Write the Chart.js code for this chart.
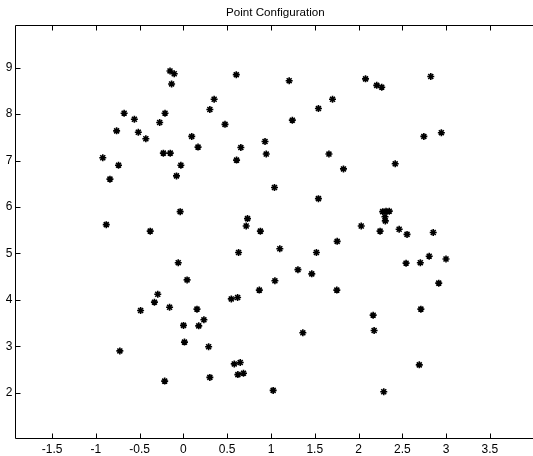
<!DOCTYPE html>
<html>
<head>
<meta charset="utf-8">
<script src="https://cdn.jsdelivr.net/npm/chart.js@4"></script>
<style>
  html, body { margin: 0; padding: 0; background: #fff; overflow: hidden; }
  #wrap { width: 533px; height: 456px; overflow: hidden; }
</style>
</head>
<body>
<div id="wrap"><canvas id="chart" width="541" height="456"></canvas></div>
<script>
// point coordinates
const pointX = [
  -0.153, -0.105, -0.135, 0.604, 1.208, 0.351, 0.302, -0.677, -0.210, -0.560,
  1.244, -0.271, 0.475, -0.763, -0.515, -0.429, 0.095, 0.932, 0.167, 0.656,
  0.946, -0.229, -0.150, -0.921, 0.607, -0.741, -0.029, -0.839, -0.079, 1.040,
  -0.037, 0.732, 0.717, -0.881, -0.379, 0.879, 2.080, 2.208, 2.265, 2.825,
  1.703, 1.542, 2.746, 2.946, 1.662, 1.828, 2.419, 1.542, 2.276, 2.314,
  2.351, 2.302, 2.306, 2.031, 2.246, 2.464, 2.554, 2.853, 1.756, 1.101,
  0.630, -0.059, 0.042, 1.308, 1.045, 0.867, -0.293, 0.619, 0.547, -0.331,
  -0.158, -0.489, 0.155, 0.234, 0.001, 0.175, 0.012, -0.726, 0.288, 0.581,
  0.649, 0.622, 0.686, -0.214, 0.302, 1.025, 1.519, 1.466, 1.752, 2.543,
  2.706, 2.807, 2.999, 2.916, 2.712, 2.167, 2.178, 1.364, 2.694, 2.288
];
const pointY = [
  8.93, 8.87, 8.65, 8.85, 8.72, 8.32, 8.10, 8.02, 8.02, 7.89,
  7.87, 7.82, 7.78, 7.64, 7.61, 7.47, 7.52, 7.41, 7.29, 7.28,
  7.14, 7.16, 7.16, 7.06, 7.01, 6.90, 6.90, 6.60, 6.67, 6.42,
  5.90, 5.75, 5.59, 5.62, 5.48, 5.48, 8.76, 8.62, 8.58, 8.81,
  8.32, 8.12, 7.52, 7.60, 7.14, 6.82, 6.93, 6.18, 5.90, 5.91,
  5.91, 5.79, 5.70, 5.59, 5.48, 5.52, 5.41, 5.45, 5.26, 5.10,
  5.02, 4.80, 4.43, 4.65, 4.41, 4.21, 4.12, 4.05, 4.02, 3.95,
  3.84, 3.77, 3.80, 3.57, 3.45, 3.44, 3.09, 2.90, 2.99, 2.62,
  2.65, 2.39, 2.42, 2.25, 2.33, 2.05, 5.02, 4.56, 4.21, 4.79,
  4.80, 4.94, 4.88, 4.36, 3.80, 3.67, 3.34, 3.29, 2.60, 2.02
];
const xTicks = [-1.5, -1, -0.5, 0, 0.5, 1, 1.5, 2, 2.5, 3, 3.5];
const yTicks = [2, 3, 4, 5, 6, 7, 8, 9];
const xRange = [-1.92, 4.02];
const yRange = [1.018, 9.913];

const points = pointX.map((x, i) => ({ x: x, y: pointY[i] }));

// matlab style box: top/left/bottom lines with inward ticks
const axesBox = {
  id: 'axesBox',
  afterDraw(chart) {
    const ctx = chart.ctx;
    const a = chart.chartArea;
    const sx = chart.scales.x, sy = chart.scales.y;
    const L = Math.round(a.left) + 0.5;
    const T = Math.round(a.top) + 0.5;
    const B = Math.round(a.bottom) + 0.5;
    const R = a.right + 1;
    const len = 5;
    ctx.save();
    ctx.strokeStyle = '#000';
    ctx.lineWidth = 1;
    ctx.beginPath();
    ctx.moveTo(R, T); ctx.lineTo(L, T); ctx.lineTo(L, B); ctx.lineTo(R, B);
    xTicks.forEach(v => {
      const px = Math.round(sx.getPixelForValue(v)) + 0.5;
      ctx.moveTo(px, B); ctx.lineTo(px, B - len);
      ctx.moveTo(px, T); ctx.lineTo(px, T + len);
    });
    yTicks.forEach(v => {
      const py = Math.round(sy.getPixelForValue(v)) + 0.5;
      ctx.moveTo(L, py); ctx.lineTo(L + len, py);
    });
    ctx.stroke();
    ctx.restore();
  }
};

const font = { family: 'Helvetica, Arial, "Liberation Sans", sans-serif', size: 12 };

new Chart(document.getElementById('chart'), {
  type: 'scatter',
  data: {
    datasets: [{
      data: points,
      pointStyle: 'star',
      pointRadius: 3.5,
      pointBorderWidth: 1.6,
      borderColor: '#000',
      backgroundColor: '#000'
    }]
  },
  options: {
    responsive: false,
    animation: false,
    devicePixelRatio: 1,
    layout: { padding: 0 },
    plugins: {
      legend: { display: false },
      tooltip: { enabled: false },
      title: {
        display: true,
        text: 'Point Configuration',
        color: '#000',
        fullSize: false,
        font: { family: font.family, size: 11.6, weight: 'normal' },
        padding: { top: 5.8, bottom: 5.6 }
      }
    },
    scales: {
      x: {
        type: 'linear',
        min: xRange[0],
        max: xRange[1],
        grid: { display: false, drawTicks: false },
        border: { display: false },
        ticks: {
          color: '#000', font: font, padding: 4, autoSkip: false, maxRotation: 0,
          callback: v => String(v)
        },
        afterBuildTicks: scale => { scale.ticks = xTicks.map(v => ({ value: v })); },
        afterFit: scale => { scale.height = 17.7; }
      },
      y: {
        type: 'linear',
        min: yRange[0],
        max: yRange[1],
        grid: { display: false, drawTicks: false },
        border: { display: false },
        ticks: {
          color: '#000', font: font, padding: 3, autoSkip: false,
          callback: v => String(v)
        },
        afterBuildTicks: scale => { scale.ticks = yTicks.map(v => ({ value: v })); },
        afterFit: scale => { scale.width = 15.3; }
      }
    }
  },
  plugins: [axesBox]
});
</script>
</body>
</html>
